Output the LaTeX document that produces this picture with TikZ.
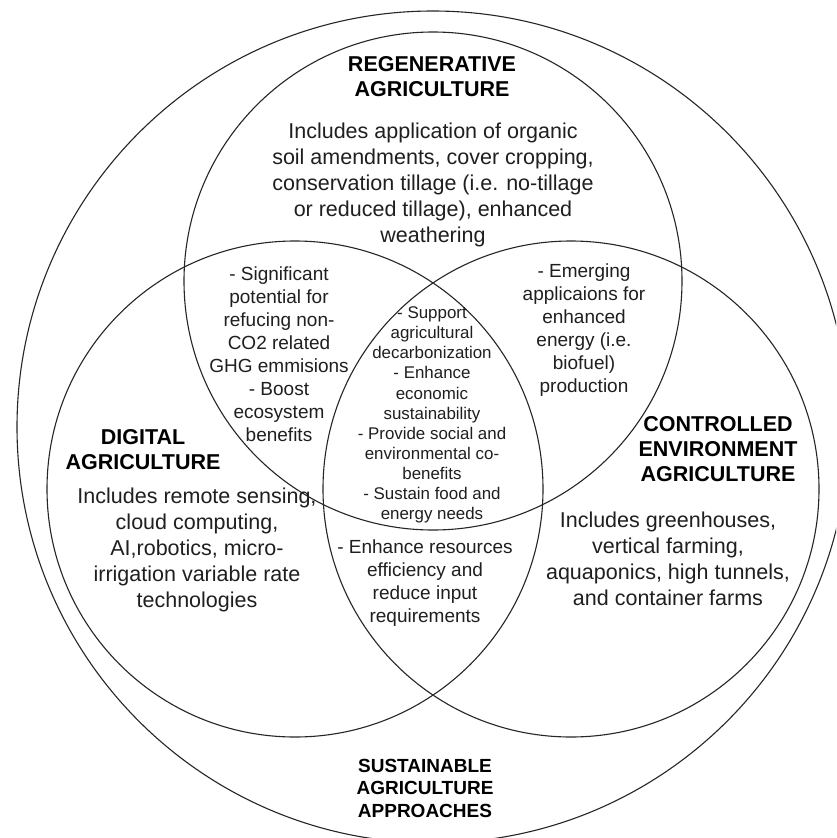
\documentclass[tikz,border=0pt]{standalone}
\usepackage{fontspec}
\setmainfont{Liberation Sans}
\begin{document}
\begin{tikzpicture}[x=1pt, y=-1pt,
  ring/.style={draw=black!85, line width=1.1pt, circle, inner sep=0pt, outer sep=0pt},
  head/.style={align=center, inner sep=0pt, text=black, font=\bfseries\fontsize{21.5}{25}\selectfont},
  foothead/.style={align=center, inner sep=0pt, text=black, font=\bfseries\fontsize{19}{22.5}\selectfont},
  body/.style={align=center, inner sep=0pt, text=black!88, font=\fontsize{21.5}{26.2}\selectfont},
  lens/.style={align=center, inner sep=0pt, text=black!88, font=\fontsize{19}{23}\selectfont},
  core/.style={align=center, inner sep=0pt, text=black!88, font=\fontsize{16.9}{20.1}\selectfont}]
  \clip (0,0) rectangle (836,838);
  \fill[white] (0,0) rectangle (836,838);

  % circles
  \node[ring, minimum size=832pt] (outer) at (433,427) {};
  \node[ring, minimum size=498pt] (regen) at (433,281) {};
  \node[ring, minimum size=496pt] (digital) at (295,489) {};
  \node[ring, minimum size=496pt] (cea) at (571,489) {};

  % regenerative agriculture
  \node[head] (regenhead) at (432,77) {REGENERATIVE\\AGRICULTURE};
  \node[body] (regenbody) at (433,185) {Includes application of organic\\soil amendments, cover cropping,\\conservation tillage (i.e. no-tillage\\or reduced tillage), enhanced\\weathering};

  % pairwise overlaps
  \node[lens] (drlens) at (279,354) {- Significant\\potential for\\refucing non-\\CO2 related\\GHG emmisions\\- Boost\\ecosystem\\benefits};
  \node[lens] (rclens) at (584,330) {- Emerging\\applicaions for\\enhanced\\energy (i.e.\\biofuel)\\production};
  \node[lens] (dclens) at (425,583) {- Enhance resources\\efficiency and\\reduce input\\requirements};

  % triple overlap
  \node[core] (corebox) at (432,415) {- Support\\agricultural\\decarbonization\\- Enhance\\economic\\sustainability\\- Provide social and\\environmental co-\\benefits\\- Sustain food and\\energy needs};

  % digital agriculture
  \node[head] (dighead) at (143,450) {DIGITAL\\AGRICULTURE};
  \node[body] (digbody) at (197,550) {Includes remote sensing,\\cloud computing,\\AI,robotics, micro-\\irrigation variable rate\\technologies};

  % controlled environment agriculture
  \node[head] (ceahead) at (718,449) {CONTROLLED\\ENVIRONMENT\\AGRICULTURE};
  \node[body] (ceabody) at (668,559) {Includes greenhouses,\\vertical farming,\\aquaponics, high tunnels,\\and container farms};

  % umbrella label
  \node[foothead] (foot) at (425,788) {SUSTAINABLE\\AGRICULTURE\\APPROACHES};
\end{tikzpicture}
\end{document}
